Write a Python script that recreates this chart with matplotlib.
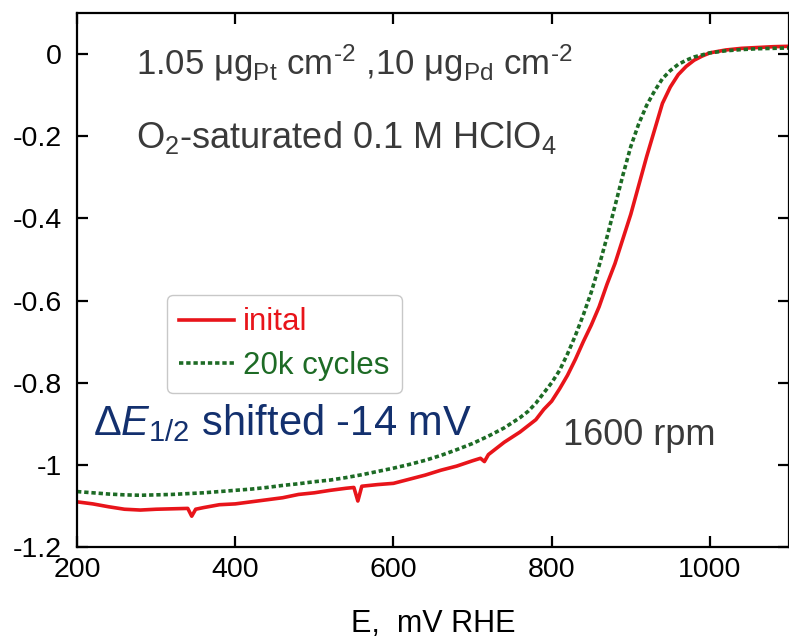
import matplotlib
matplotlib.use("Agg")
import matplotlib.pyplot as plt

plt.rcParams["font.family"] = ["Liberation Sans", "DejaVu Sans"]
plt.rcParams["mathtext.fontset"] = "custom"
plt.rcParams["mathtext.rm"] = "Liberation Sans"
plt.rcParams["mathtext.it"] = "Liberation Sans:italic"
plt.rcParams["mathtext.bf"] = "Liberation Sans:bold"

# ORR polarization curves, current density vs potential
e_init = [200, 220, 240, 260, 280, 300, 320, 340, 345, 350, 360, 380, 400, 420,
          440, 460, 480, 500, 520, 540, 550, 555, 560, 580, 600, 620, 640, 660,
          680, 700, 710, 715, 720, 740, 760, 780, 790, 800, 810, 820, 830, 840,
          850, 860, 870, 880, 890, 900, 910, 920, 930, 940, 950, 960, 970, 980,
          990, 1000, 1020, 1040, 1060, 1080, 1100]
j_init = [-1.090, -1.095, -1.102, -1.108, -1.110, -1.108, -1.107, -1.106, -1.125,
          -1.108, -1.104, -1.097, -1.095, -1.090, -1.085, -1.080, -1.072, -1.068,
          -1.062, -1.057, -1.055, -1.088, -1.052, -1.048, -1.045, -1.035, -1.025,
          -1.013, -1.003, -0.990, -0.984, -0.992, -0.975, -0.945, -0.920, -0.890,
          -0.865, -0.845, -0.815, -0.782, -0.743, -0.700, -0.660, -0.615, -0.560,
          -0.510, -0.450, -0.390, -0.320, -0.250, -0.185, -0.120, -0.080, -0.050,
          -0.030, -0.015, -0.005, 0.003, 0.010, 0.014, 0.016, 0.018, 0.019]

e_cyc = [200, 220, 240, 260, 280, 300, 320, 340, 360, 380, 400, 420, 440, 460,
         480, 500, 520, 540, 560, 580, 600, 620, 640, 660, 680, 700, 720, 740,
         760, 770, 780, 790, 800, 810, 820, 830, 840, 850, 860, 870, 880, 890,
         900, 910, 920, 930, 940, 950, 960, 970, 980, 990, 1000, 1020, 1040,
         1060, 1080, 1100]
j_cyc = [-1.065, -1.068, -1.071, -1.073, -1.074, -1.073, -1.072, -1.070, -1.068,
         -1.065, -1.062, -1.059, -1.055, -1.050, -1.046, -1.041, -1.037, -1.031,
         -1.024, -1.016, -1.008, -0.999, -0.989, -0.977, -0.963, -0.948, -0.930,
         -0.910, -0.885, -0.870, -0.850, -0.825, -0.800, -0.770, -0.730, -0.685,
         -0.635, -0.580, -0.515, -0.445, -0.370, -0.295, -0.225, -0.170, -0.125,
         -0.090, -0.060, -0.040, -0.025, -0.015, -0.007, -0.002, 0.003, 0.008,
         0.011, 0.013, 0.014, 0.015]

x_ticks = [200, 400, 600, 800, 1000]
y_ticks = [0, -0.2, -0.4, -0.6, -0.8, -1.0, -1.2]
y_tick_labels = ["0", "-0.2", "-0.4", "-0.6", "-0.8", "-1", "-1.2"]

red = "#e8141a"
green = "#1d6b25"
gray = "#3a3a3a"
navy = "#13306e"

fig = plt.figure(figsize=(7.89, 6.38), dpi=100)
ax = fig.add_axes([0.0976, 0.1426, 0.9024, 0.837])

ax.plot(e_init, j_init, color=red, lw=2.6, label="inital")
ax.plot(e_cyc, j_cyc, color=green, lw=2.6, ls=(0, (1.2, 0.8)), label="20k cycles")

ax.set_xlim(200, 1100)
ax.set_ylim(-1.2, 0.1)
ax.set_xticks(x_ticks)
ax.set_yticks(y_ticks)
ax.set_yticklabels(y_tick_labels)
ax.tick_params(direction="in", length=8, width=1.6, top=True, right=True,
               labelsize=20.5)
ax.tick_params(axis="y", pad=11)
ax.tick_params(axis="x", pad=7)
for sp in ax.spines.values():
    sp.set_linewidth(1.6)
ax.set_xlabel("E,  mV RHE", fontsize=22, labelpad=19)

ax.text(275, -0.051,
        "1.05 \u03bcg$_{\\rm Pt}$ cm$^{\\text{-2}}$ ,10 \u03bcg$_{\\rm Pd}$ cm$^{\\text{-2}}$",
        fontsize=25, color=gray, va="baseline")
ax.text(275, -0.229, r"O$_2$-saturated 0.1 M HClO$_4$", fontsize=26, color=gray, va="baseline")
ax.text(220, -0.927, r"$\Delta E_{1/2}$ shifted -14 mV", fontsize=30, color=navy, va="baseline")
ax.text(814, -0.951, "1600 rpm", fontsize=26, color=gray, va="baseline")

leg = ax.legend(loc="upper left", bbox_to_anchor=(0.126, 0.472), borderaxespad=0,
                fontsize=22.5, handlelength=1.75, handletextpad=0.3, labelspacing=0.42,
                frameon=True, fancybox=True, edgecolor="#c8c8c8", framealpha=1,
                borderpad=0.4)
leg.get_frame().set_linewidth(1.0)
for txt, c in zip(leg.get_texts(), [red, green]):
    txt.set_color(c)

fig.savefig("out.png", dpi=100)
